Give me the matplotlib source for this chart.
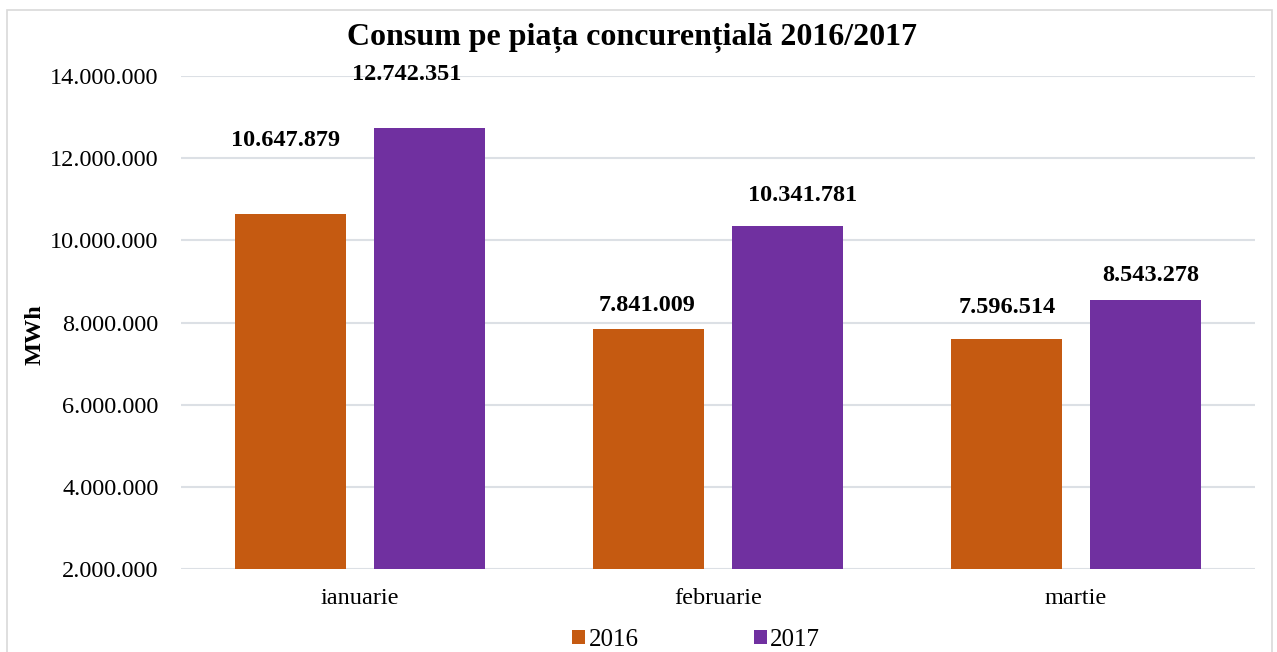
import matplotlib
matplotlib.use("Agg")
import matplotlib.pyplot as plt
from matplotlib.patches import Rectangle
import numpy as np

categories = ["ianuarie", "februarie", "martie"]
series_names = ["2016", "2017"]
values_2016 = [10647879, 7841009, 7596514]
values_2017 = [12742351, 10341781, 8543278]
y_ticks = [2000000, 4000000, 6000000, 8000000, 10000000, 12000000, 14000000]

def fmt(v):
    return f"{v:,.0f}".replace(",", ".")

plt.rcParams['font.family'] = ['Liberation Serif', 'DejaVu Serif']

fig = plt.figure(figsize=(12.77, 6.52), dpi=100)
ax = fig.add_axes([0.1417, 0.1273, 0.9828 - 0.1417, 0.8834 - 0.1273])

# figure border
fig.patches.append(Rectangle((7 / 1277, -0.05), (1272 - 7) / 1277, (642 - 0) / 652 + 0.05,
                             transform=fig.transFigure, fill=False,
                             edgecolor="#D9D9D9", linewidth=1.2))

colors = ["#C55A11", "#7030A0"]
x = np.arange(len(categories))
w = 0.31
off = 0.193
bars1 = ax.bar(x - off, values_2016, width=w, color=colors[0], label=series_names[0], zorder=3)
bars2 = ax.bar(x + off, values_2017, width=w, color=colors[1], label=series_names[1], zorder=3)

# label offsets in points (dx, dy) mimicking reference placement
offs1 = [(-4, 53), (-1, 17), (0, 23)]
offs2 = [(-16, 38), (11, 22), (4, 18)]
for bars, vals, offs in ((bars1, values_2016, offs1), (bars2, values_2017, offs2)):
    for b, v, (dx, dy) in zip(bars, vals, offs):
        ax.annotate(fmt(v), (b.get_x() + b.get_width() / 2, v), xytext=(dx, dy),
                    textcoords="offset points", ha="center", va="center",
                    fontsize=17.5, fontweight="bold", color="black", zorder=4)

ax.set_ylim(2000000, 14000000)
ax.set_xlim(-0.5, 2.5)
ax.set_yticks(y_ticks)
ax.set_yticklabels([fmt(t) for t in y_ticks], fontsize=17.5)
ax.set_xticks(x)
ax.set_xticklabels(categories, fontsize=17.5)
ax.tick_params(axis="both", length=0)
ax.tick_params(axis="y", pad=16)
ax.tick_params(axis="x", pad=14)
ax.grid(axis="y", color="#DCE0E5", linewidth=1.5, zorder=0)
for s in ax.spines.values():
    s.set_visible(False)

fig.text(35 / 1277, 1 - 335 / 652, "MWh", rotation=90, ha="center", va="center",
         fontsize=17.5, fontweight="bold")

fig.text(632 / 1277, 1 - 38 / 652, "Consum pe piața concurențială 2016/2017",
         ha="center", va="center", fontsize=23, fontweight="bold")

fig.legend(handles=[bars1, bars2], labels=series_names, loc="center",
           bbox_to_anchor=(696 / 1277, 1 - 640 / 652), ncol=2, frameon=False,
           fontsize=18, handlelength=0.52, handleheight=0.52, handletextpad=0.15,
           columnspacing=4.6, borderpad=0)

fig.savefig("out.png", dpi=100)
